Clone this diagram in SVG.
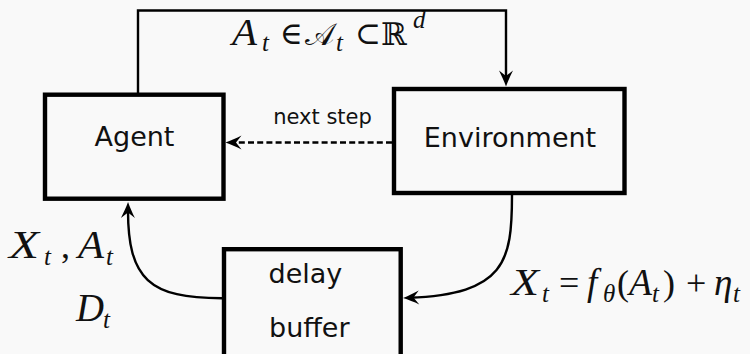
<svg xmlns="http://www.w3.org/2000/svg" width="750" height="354" viewBox="0 0 750 354">
  <style>
    .box { fill: none; stroke: #000; stroke-width: 4.4; }
    .lbl { font-family: "DejaVu Sans", sans-serif; font-size: 27px; fill: #111; }
    .small { font-family: "DejaVu Sans", sans-serif; font-size: 21px; fill: #111; }
    .edge { fill: none; stroke: #000; stroke-width: 2.4; }
    .dash { fill: none; stroke: #000; stroke-width: 2.3; stroke-dasharray: 6 3.2; }
    .m { font-family: "Liberation Serif", "Times New Roman", serif; font-style: italic; font-size: 37px; fill: #111; }
    .ml { font-family: "Liberation Serif", "Times New Roman", serif; font-style: italic; font-size: 39px; fill: #111; }
    .sub { font-family: "Liberation Serif", "Times New Roman", serif; font-style: italic; font-size: 25px; fill: #111; }
    .up { font-family: "Liberation Serif", "Times New Roman", serif; font-size: 36px; fill: #111; }
    .sym { font-family: "DejaVu Serif", serif; font-size: 31px; fill: #111; }
  </style>
  <defs>
    <marker id="arr" viewBox="-18 -8 20 16" markerWidth="20" markerHeight="16" refX="-6" refY="0" orient="auto" markerUnits="userSpaceOnUse">
      <path d="M0,0 C-5,-1.8 -11,-4.5 -16,-7 L-10.5,0 L-16,7 C-11,4.5 -5,1.8 0,0 Z" fill="#000"/>
    </marker>
  </defs>
  <rect width="750" height="354" fill="#f9f9f9"/>

  <g id="connectors">
    <path class="edge" d="M138,93 V10.5 H506 V80.5" marker-end="url(#arr)"/>
    <path class="dash" d="M392,142.5 H231.5" marker-end="url(#arr)"/>
    <path class="edge" d="M512,195 C512,262 505,294 409,297.8" marker-end="url(#arr)"/>
    <path class="edge" d="M222,298.3 C150,298 127.5,280 128,208" marker-end="url(#arr)"/>
  </g>

  <g id="agent">
    <rect class="box" x="45" y="94.7" width="178.5" height="104"/>
    <text class="lbl" x="134.5" y="145.7" text-anchor="middle">Agent</text>
  </g>

  <g id="environment">
    <rect class="box" x="394" y="89" width="230.5" height="104"/>
    <text class="lbl" x="510" y="146.7" text-anchor="middle">Environment</text>
  </g>

  <g id="delay-buffer">
    <rect class="box" x="224" y="249.2" width="176.7" height="110"/>
    <text class="lbl" x="268.5" y="283.3">delay</text>
    <text class="lbl" x="269" y="336.7">buffer</text>
  </g>

  <g id="edge-labels">
    <text class="small" x="322.5" y="124" text-anchor="middle">next step</text>

    <text class="m" x="232" y="45" textLength="25" lengthAdjust="spacingAndGlyphs">A</text>
    <text class="sub" x="262" y="51">t</text>
    <text class="sym" x="280" y="44">∈</text>
    <text class="sym" x="305" y="45" font-size="29px">𝒜</text>
    <text class="sub" x="336" y="51">t</text>
    <text class="sym" x="355" y="44">⊂</text>
    <text class="sym" x="381" y="45" font-size="35px">ℝ</text>
    <text class="sub" x="413" y="28">d</text>

    <text class="ml" x="9" y="258" textLength="30" lengthAdjust="spacingAndGlyphs">X</text>
    <text class="sub" x="44" y="265">t</text>
    <text class="up" x="61" y="258">,</text>
    <text class="ml" x="78" y="258" textLength="26" lengthAdjust="spacingAndGlyphs">A</text>
    <text class="sub" x="106" y="265">t</text>
    <text class="ml" x="76" y="321" textLength="28" lengthAdjust="spacingAndGlyphs">D</text>
    <text class="sub" x="103" y="328">t</text>

    <text class="m" x="511" y="295" textLength="28" lengthAdjust="spacingAndGlyphs">X</text>
    <text class="sub" x="542" y="302">t</text>
    <text class="up" x="559" y="295">=</text>
    <text class="m" x="587" y="295">f</text>
    <text class="sub" x="603" y="302">θ</text>
    <text class="up" x="617" y="295">(</text>
    <text class="m" x="629" y="295" textLength="23" lengthAdjust="spacingAndGlyphs">A</text>
    <text class="sub" x="652" y="302">t</text>
    <text class="up" x="663" y="295">)</text>
    <text class="up" x="686" y="295">+</text>
    <text class="m" x="714" y="295">η</text>
    <text class="sub" x="733" y="302">t</text>
  </g>
</svg>
